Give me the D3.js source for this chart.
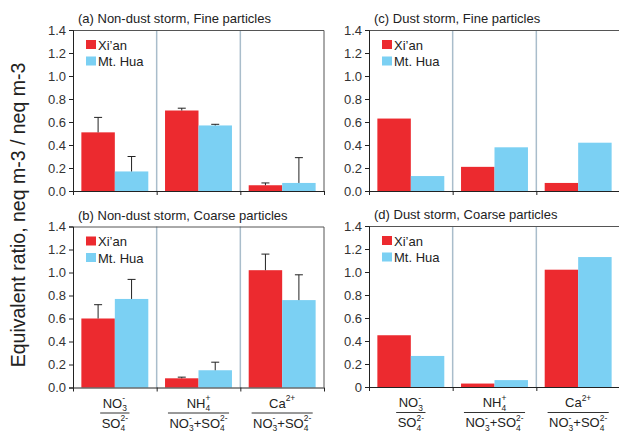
<!DOCTYPE html>
<html><head><meta charset="utf-8">
<script src="https://cdn.jsdelivr.net/npm/d3@7"></script>
<style>
body{margin:0;background:#fff;}
svg{display:block;font-family:"Liberation Sans",Arial,sans-serif;}
</style></head>
<body><svg id="chart" width="619" height="432"></svg>
<script>
// ---- data ----
const categories = ["NO3/SO4", "NH4/(NO3+SO4)", "Ca/(NO3+SO4)"];
const seriesNames = ["Xi\u2019an", "Mt. Hua"];
const yTicks = [0, 0.2, 0.4, 0.6, 0.8, 1.0, 1.2, 1.4];

const titleA = "(a) Non-dust storm, Fine particles";
const xianA = [0.51, 0.70, 0.05];
const huaA = [0.17, 0.57, 0.07];
const xianAErr = [0.13, 0.02, 0.02];
const huaAErr = [0.13, 0.01, 0.22];

const titleB = "(b) Non-dust storm, Coarse particles";
const xianB = [0.60, 0.08, 1.02];
const huaB = [0.77, 0.15, 0.76];
const xianBErr = [0.12, 0.01, 0.14];
const huaBErr = [0.17, 0.07, 0.22];

const titleC = "(c) Dust storm, Fine particles";
const xianC = [0.63, 0.21, 0.07];
const huaC = [0.13, 0.38, 0.42];

const titleD = "(d) Dust storm, Coarse particles";
const xianD = [0.45, 0.03, 1.02];
const huaD = [0.27, 0.06, 1.13];

const yLabel = "Equivalent ratio, neq m-3 / neq m-3";

// ---- drawing ----
const svg = d3.select("#chart");
const colors = ["#EC2A2F", "#7BD0F3"];
const W = 251, H = 161;
const panels = [
  {title: titleA, xian: xianA, hua: huaA, xe: xianAErr, he: huaAErr, x: 73, y: 30, zeroLabel: "0.0"},
  {title: titleB, xian: xianB, hua: huaB, xe: xianBErr, he: huaBErr, x: 73, y: 226.5, zeroLabel: "0.0", xlabels: true},
  {title: titleC, xian: xianC, hua: huaC, x: 369, y: 30, zeroLabel: "0.0"},
  {title: titleD, xian: xianD, hua: huaD, x: 369, y: 226, zeroLabel: "0", xlabels: true}
];

const y = d3.scaleLinear().domain([0, 1.4]).range([H, 0]);
const x0 = d3.scaleBand().domain(categories).range([0, W]).paddingInner(0.2).paddingOuter(0.1);
const x1 = d3.scaleBand().domain(seriesNames).range([0, x0.bandwidth()]);
const step = x0.step();
const groupEdge = c => x0(c) - step * x0.paddingInner() / 2;

function measure(str, fs) {
  const t = svg.append("text").attr("font-size", fs).text(str);
  const w = t.node().getComputedTextLength();
  t.remove();
  return w;
}

function drawFormula(parent, parts, fs) {
  const t = parent.append("text").attr("font-size", fs).attr("fill", "#222");
  let cx = 0;
  const sfs = fs * 0.65;
  parts.forEach(pt => {
    if (pt.t !== undefined) {
      t.append("tspan").attr("x", cx).attr("y", 0).text(pt.t);
      cx += measure(pt.t, fs);
    } else {
      let w = 0;
      if (pt.sup) {
        t.append("tspan").attr("x", cx).attr("y", -fs * 0.48).attr("font-size", sfs).text(pt.sup);
        w = Math.max(w, measure(pt.sup, sfs));
      }
      if (pt.sub) {
        t.append("tspan").attr("x", cx).attr("y", fs * 0.3).attr("font-size", sfs).text(pt.sub);
        w = Math.max(w, measure(pt.sub, sfs));
      }
      cx += w;
    }
  });
  return {t, w: cx};
}

function drawFractions(g) {
  const fs = 13;
  const nums = [
    [{t: "NO"}, {sub: "3", sup: "-"}],
    [{t: "NH"}, {sub: "4", sup: "+"}],
    [{t: "Ca"}, {sup: "2+"}]
  ];
  const den2 = [{t: "NO"}, {sub: "3", sup: "-"}, {t: "+SO"}, {sub: "4", sup: "2-"}];
  const dens = [
    [{t: "SO"}, {sub: "4", sup: "2-"}],
    den2, den2
  ];
  categories.forEach((c, i) => {
    const cxm = x0(c) + x0.bandwidth() / 2;
    const n = drawFormula(g, nums[i], fs);
    const d = drawFormula(g, dens[i], fs);
    n.t.attr("transform", `translate(${cxm - n.w / 2},${H + 20})`);
    d.t.attr("transform", `translate(${cxm - d.w / 2},${H + 40})`);
    const lw = Math.max(n.w, d.w) + 3;
    g.append("line").attr("x1", cxm - lw / 2).attr("x2", cxm + lw / 2)
      .attr("y1", H + 25.5).attr("y2", H + 25.5).attr("stroke", "#333").attr("stroke-width", 1);
  });
}

panels.forEach(p => {
  const g = svg.append("g").attr("transform", `translate(${p.x},${p.y})`);
  // separators
  categories.slice(1).forEach(c => {
    g.append("line").attr("x1", groupEdge(c)).attr("x2", groupEdge(c))
      .attr("y1", 0).attr("y2", H).attr("stroke", "#A9BDCB").attr("stroke-width", 1.5);
  });
  // bars
  const vals = [p.xian, p.hua];
  const errs = [p.xe, p.he];
  categories.forEach((c, i) => {
    seriesNames.forEach((s, k) => {
      const v = vals[k][i];
      g.append("rect").attr("x", x0(c) + x1(s)).attr("width", x1.bandwidth())
        .attr("y", y(v)).attr("height", H - y(v)).attr("fill", colors[k]);
    });
  });
  // error bars
  categories.forEach((c, i) => {
    seriesNames.forEach((s, k) => {
      if (!errs[k]) return;
      const v = vals[k][i], e = errs[k][i];
      const cx = x0(c) + x1(s) + x1.bandwidth() / 2;
      g.append("line").attr("x1", cx).attr("x2", cx).attr("y1", y(v)).attr("y2", y(v + e))
        .attr("stroke", "#222").attr("stroke-width", 1);
      g.append("line").attr("x1", cx - 4).attr("x2", cx + 4).attr("y1", y(v + e)).attr("y2", y(v + e))
        .attr("stroke", "#222").attr("stroke-width", 1);
    });
  });
  // frame top & right
  g.append("path").attr("d", `M0,0.5H${W}V${H}`).attr("fill", "none").attr("stroke", "#555").attr("stroke-width", 1);
  // y axis
  const ya = d3.axisLeft(y).tickValues(yTicks).tickSize(4).tickPadding(3)
    .tickFormat(d => d === 0 ? p.zeroLabel : d3.format(".1f")(d));
  const yg = g.append("g").call(ya);
  yg.select(".domain").attr("stroke", "#222");
  yg.selectAll(".tick line").attr("stroke", "#222");
  yg.selectAll("text").attr("font-size", 13).attr("fill", "#333").attr("font-family", "Liberation Sans, Arial, sans-serif");
  // x axis with boundary ticks
  const xa = d3.axisBottom(d3.scaleLinear().domain([0, 3]).range([0, W])).tickValues([0, 1, 2, 3]).tickSize(4).tickFormat("");
  const xg = g.append("g").attr("transform", `translate(0,${H})`).call(xa);
  xg.select(".domain").attr("stroke", "#222").attr("d", `M0,0.5H${W}`);
  xg.selectAll(".tick line").attr("stroke", "#222");
  // title
  g.append("text").attr("x", 5).attr("y", -7).attr("font-size", 13).attr("fill", "#222").text(p.title);
  // legend
  seriesNames.forEach((s, k) => {
    g.append("rect").attr("x", 13).attr("y", 10 + k * 16.5).attr("width", 10).attr("height", 9).attr("fill", colors[k]);
    g.append("text").attr("x", 25).attr("y", 19.5 + k * 16.5).attr("font-size", 13).attr("fill", "#222").text(s);
  });
  if (p.xlabels) drawFractions(g);
});

// y label
svg.append("text").attr("transform", "translate(25,215) rotate(-90)")
  .attr("text-anchor", "middle").attr("font-size", 19.5).attr("fill", "#222").text(yLabel);
</script></body></html>
